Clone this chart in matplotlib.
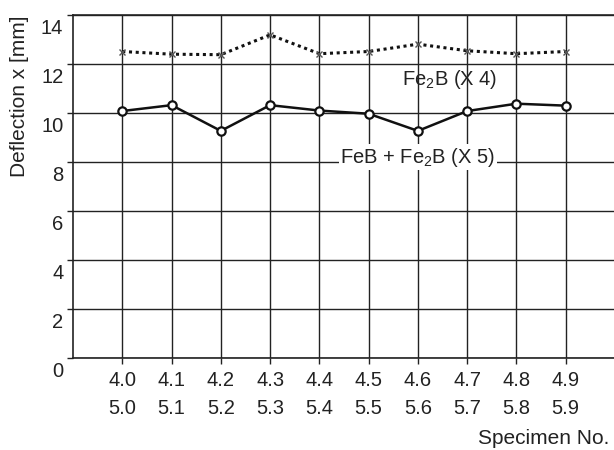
import matplotlib
matplotlib.use("Agg")
import matplotlib.pyplot as plt
import matplotlib.transforms as mtransforms

plt.rcParams['font.family'] = ['Liberation Sans', 'DejaVu Sans']
plt.rcParams['mathtext.fontset'] = 'custom'
plt.rcParams['mathtext.rm'] = 'Liberation Sans'
plt.rcParams['mathtext.default'] = 'rm'

top_row = ["4.0", "4.1", "4.2", "4.3", "4.4", "4.5", "4.6", "4.7", "4.8", "4.9"]
bottom_row = ["5.0", "5.1", "5.2", "5.3", "5.4", "5.5", "5.6", "5.7", "5.8", "5.9"]
fe2b = [12.51, 12.40, 12.38, 13.19, 12.42, 12.51, 12.81, 12.54, 12.42, 12.51]
feb_fe2b = [10.08, 10.32, 9.27, 10.32, 10.10, 9.97, 9.27, 10.08, 10.38, 10.30]
y_ticks = [0, 2, 4, 6, 8, 10, 12, 14]

fig = plt.figure(figsize=(6.14, 4.5), dpi=100)
ax = fig.add_axes([73/614, 1-358/450, 542/614, 343/450])

x = list(range(len(top_row)))
ax.set_xlim(-1, 10)
ax.set_ylim(0, 14)

FS = 14.5
ax.set_xticks(x)
ax.set_xticklabels([f"{a}\n{b}" for a, b in zip(top_row, bottom_row)],
                   fontsize=FS, linespacing=1.65, color='#222222')
ax.set_yticks(y_ticks)
ax.set_yticklabels([str(v) for v in y_ticks], fontsize=FS, color='#222222')
ax.tick_params(axis='both', direction='out', length=4, width=1, color='#222222')
ax.tick_params(axis='x', pad=5)
ax.tick_params(axis='y', pad=3)
ax.grid(True, color='#222222', linewidth=1)
for s in ['left', 'bottom', 'top']:
    ax.spines[s].set_color('#222222')
    ax.spines[s].set_linewidth(1.2)
ax.spines['right'].set_visible(False)

offset = mtransforms.ScaledTranslation(0, -8/72, fig.dpi_scale_trans)
for lab in ax.get_yticklabels():
    lab.set_transform(lab.get_transform() + offset)

ax.plot(x, fe2b, linestyle=(0, (1, 1.2)), color='#111111', linewidth=2.2,
        marker='x', markersize=4, markeredgecolor='#555555', markeredgewidth=1, zorder=3)
ax.plot(x, feb_fe2b, linestyle='-', color='#111111', linewidth=1.8,
        marker='o', markersize=6, markerfacecolor='white', markeredgecolor='#111111',
        markeredgewidth=1.6, zorder=3)

ax.text(6.65, 11.35, "Fe$_2$B (X 4)", fontsize=FS, ha='center', va='center', color='#222222', zorder=4)
ax.text(6.0, 8.2, "FeB + Fe$_2$B (X 5)", fontsize=FS, ha='center', va='center', color='#222222',
        bbox=dict(facecolor='white', edgecolor='none', pad=1), zorder=4)

fig.text(20/614, 1-96/450, "Deflection x [mm]", rotation=90, fontsize=15,
         ha='center', va='center', color='#222222')
fig.text(609/614, 1-438/450, "Specimen No.", fontsize=15, ha='right', va='center', color='#222222')

fig.savefig("out.png", dpi=100)
